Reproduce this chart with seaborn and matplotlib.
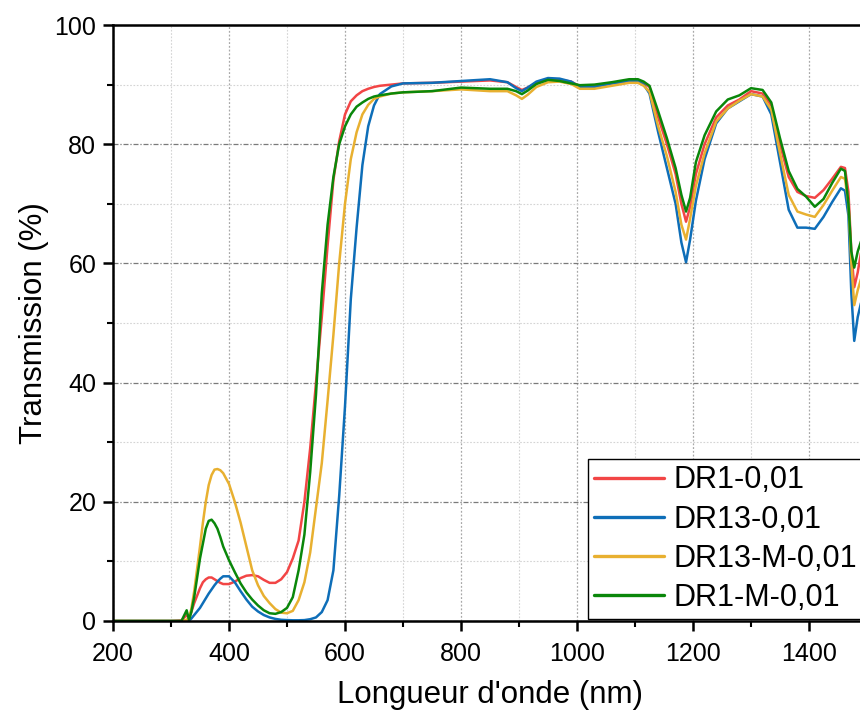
import numpy as np
import pandas as pd
import matplotlib
matplotlib.use("Agg")
import matplotlib.pyplot as plt
import seaborn as sns
from matplotlib.ticker import MultipleLocator

wavelength = [200, 300, 318, 327, 331, 335, 340, 350, 355, 360, 365, 370, 375, 380, 385, 390, 400, 410, 420, 430,
              440, 450, 460, 470, 480, 490, 500, 510, 520, 530, 540, 550, 560, 570, 580, 590,
              600, 610, 620, 630, 640, 650, 660, 680, 700, 750, 800, 850, 880, 895, 905, 915,
              930, 950, 970, 990, 1005, 1030, 1060, 1090, 1105, 1115, 1125, 1140, 1155, 1170,
              1180, 1188, 1195, 1205, 1220, 1240, 1260, 1280, 1300, 1320, 1335, 1350, 1365,
              1380, 1395, 1410, 1425, 1440, 1455, 1462, 1468, 1473, 1478, 1484, 1490, 1500]

dr1 = [0, 0, 0.1, 1.0, 0.4, 1.5, 3.0, 5.5, 6.5, 7.0, 7.3, 7.3, 7.0, 6.7, 6.4, 6.2, 6.2, 6.6, 7.2, 7.6,
       7.7, 7.5, 6.9, 6.4, 6.4, 7.0, 8.2, 10.5, 13.5, 20.0, 29.0, 40.0, 51.0, 63.0, 74.0, 80.5,
       85.0, 87.2, 88.2, 88.9, 89.3, 89.6, 89.8, 90.0, 90.2, 90.3, 90.5, 90.7, 90.4, 89.6, 89.1, 89.5,
       90.3, 90.8, 90.8, 90.5, 89.7, 89.7, 90.2, 90.6, 90.7, 90.3, 89.6, 84.5, 80.0, 75.0,
       70.0, 67.0, 69.5, 75.0, 80.0, 84.5, 86.5, 87.5, 88.9, 88.5, 86.5, 80.0, 74.5,
       72.0, 71.3, 71.0, 72.3, 74.2, 76.2, 76.0, 72.0, 62.0, 56.0, 58.5, 62.0, 64.0]

dr13 = [0, 0, 0, 0, 0.05, 0.4, 1.0, 2.2, 3.0, 3.8, 4.6, 5.3, 6.0, 6.6, 7.1, 7.5, 7.5, 6.5, 5.0, 3.6,
        2.4, 1.6, 1.0, 0.6, 0.35, 0.2, 0.15, 0.12, 0.12, 0.15, 0.3, 0.6, 1.5, 3.5, 8.5, 21.0,
        36.0, 54.0, 66.0, 76.5, 83.0, 86.5, 88.4, 89.7, 90.2, 90.3, 90.6, 90.9, 90.4, 89.4, 88.9, 89.5,
        90.5, 91.1, 91.0, 90.5, 89.6, 89.6, 90.2, 90.6, 90.6, 90.0, 88.5, 82.0, 76.0, 70.0,
        63.5, 60.2, 64.0, 70.5, 77.5, 83.5, 86.0, 87.2, 88.4, 88.0, 85.0, 77.0, 69.0,
        66.0, 66.0, 65.8, 67.8, 70.3, 72.6, 72.2, 68.0, 55.0, 47.0, 51.0, 53.5, 55.0]

dr13_m = [0, 0, 0, 0.2, 0.6, 2.0, 5.0, 12.5, 16.5, 20.0, 22.8, 24.5, 25.4, 25.5, 25.3, 24.8, 23.0, 20.0, 16.5, 12.5,
          8.5, 6.0, 4.2, 3.0, 2.0, 1.4, 1.3, 1.7, 3.5, 6.5, 11.5, 19.0, 26.5, 37.0, 48.0, 60.0,
          70.0, 77.5, 82.0, 85.0, 86.6, 87.6, 88.0, 88.5, 88.7, 88.9, 89.2, 88.9, 88.9, 88.2, 87.6, 88.3,
          89.6, 90.4, 90.5, 90.1, 89.3, 89.3, 89.8, 90.3, 90.3, 89.8, 88.8, 83.0, 78.0, 72.0,
          66.5, 64.0, 67.5, 73.0, 78.5, 83.8, 86.0, 87.3, 88.4, 88.0, 85.8, 78.5, 71.5,
          68.7, 68.2, 67.8, 69.8, 72.2, 74.5, 74.2, 70.0, 60.0, 53.0, 55.5, 57.5, 59.0]

dr1_m = [0, 0, 0, 1.8, 0.2, 1.5, 4.0, 10.5, 13.0, 15.5, 16.8, 17.0, 16.4, 15.5, 14.1, 12.5, 10.2, 8.2, 6.3, 4.8,
         3.6, 2.6, 1.8, 1.3, 1.2, 1.5, 2.2, 4.0, 8.5, 14.5, 25.0, 38.0, 55.0, 66.5, 74.5, 80.0,
         83.0, 85.0, 86.3, 87.0, 87.6, 88.0, 88.2, 88.5, 88.7, 88.9, 89.5, 89.3, 89.3, 88.9, 88.4, 89.0,
         90.1, 90.8, 90.6, 90.2, 89.9, 90.0, 90.4, 90.9, 90.9, 90.5, 89.8, 85.5, 81.0, 76.0,
         71.5, 68.7, 71.0, 77.0, 81.5, 85.5, 87.5, 88.2, 89.4, 89.1, 87.0, 81.0, 75.5,
         72.5, 71.2, 69.5, 70.8, 73.5, 75.9, 75.5, 70.0, 62.0, 59.3, 62.0, 63.8, 65.0]

series_names = ["DR1-0,01", "DR13-0,01", "DR13-M-0,01", "DR1-M-0,01"]
series_colors = ["#F24545", "#0E6EB8", "#E8B030", "#0A870A"]
x_ticks = [200, 400, 600, 800, 1000, 1200, 1400]
y_ticks = [0, 20, 40, 60, 80, 100]

frames = []
for name, vals in zip(series_names, [dr1, dr13, dr13_m, dr1_m]):
    frames.append(pd.DataFrame({"wl": wavelength, "T": vals, "serie": name}))
df = pd.concat(frames, ignore_index=True)

sns.set_theme(style="white")
plt.rcParams["font.family"] = ["Liberation Sans", "DejaVu Sans"]
plt.rcParams["text.color"] = "black"
plt.rcParams["axes.labelcolor"] = "black"
plt.rcParams["xtick.color"] = "black"
plt.rcParams["ytick.color"] = "black"

fig = plt.figure(figsize=(8.6, 7.16), dpi=100)
ax = fig.add_axes([113 / 860, 95 / 716, 754 / 860, 596 / 716])

sns.lineplot(data=df, x="wl", y="T", hue="serie", hue_order=series_names,
             palette=series_colors, estimator=None, sort=False, linewidth=1.8, ax=ax)

ax.set_xlim(200, 1500)
ax.set_ylim(0, 100)
ax.set_xticks(x_ticks)
ax.set_yticks(y_ticks)
ax.xaxis.set_minor_locator(MultipleLocator(100))
ax.yaxis.set_minor_locator(MultipleLocator(10))

ax.grid(False)
ax.xaxis.grid(True, which="major", color="#a8a8a8", linestyle=(0, (1.5, 1.5)), linewidth=0.9)
ax.yaxis.grid(True, which="major", color="#7a7a7a", linestyle=(0, (4, 1.5, 1, 1.5)), linewidth=0.9)
ax.grid(True, which="minor", color="#d4d4d4", linestyle=(0, (1.5, 1.5)), linewidth=0.8)
ax.set_axisbelow(True)

for side in ["left", "bottom", "top", "right"]:
    ax.spines[side].set_visible(True)
    ax.spines[side].set_color("black")
    ax.spines[side].set_linewidth(1.8)

ax.tick_params(axis="both", which="major", direction="out", length=7, width=1.8,
               color="black", labelcolor="black", labelsize=18, bottom=True, left=True,
               top=False, right=False)
ax.tick_params(axis="x", which="major", pad=8)
ax.tick_params(axis="y", which="major", pad=5)
ax.tick_params(axis="both", which="minor", direction="out", length=4, width=1.5,
               color="black", bottom=True, left=True, top=False, right=False)

ax.set_xlabel("Longueur d'onde (nm)", fontsize=22.5, labelpad=10, color="black")
ax.set_ylabel("Transmission (%)", fontsize=22.5, labelpad=4, color="black")

leg = ax.legend(loc="lower left", bbox_to_anchor=(588 / 860, 97 / 716),
                bbox_transform=fig.transFigure, fontsize=22, frameon=True,
                fancybox=False, framealpha=1, edgecolor="black", borderpad=0.2,
                labelspacing=0.3, handlelength=2.3, handletextpad=0.3, borderaxespad=0)
leg.get_frame().set_linewidth(1.0)
for line in leg.get_lines():
    line.set_linewidth(2.4)
for t in leg.get_texts():
    t.set_color("black")

fig.savefig("out.png", dpi=100)
